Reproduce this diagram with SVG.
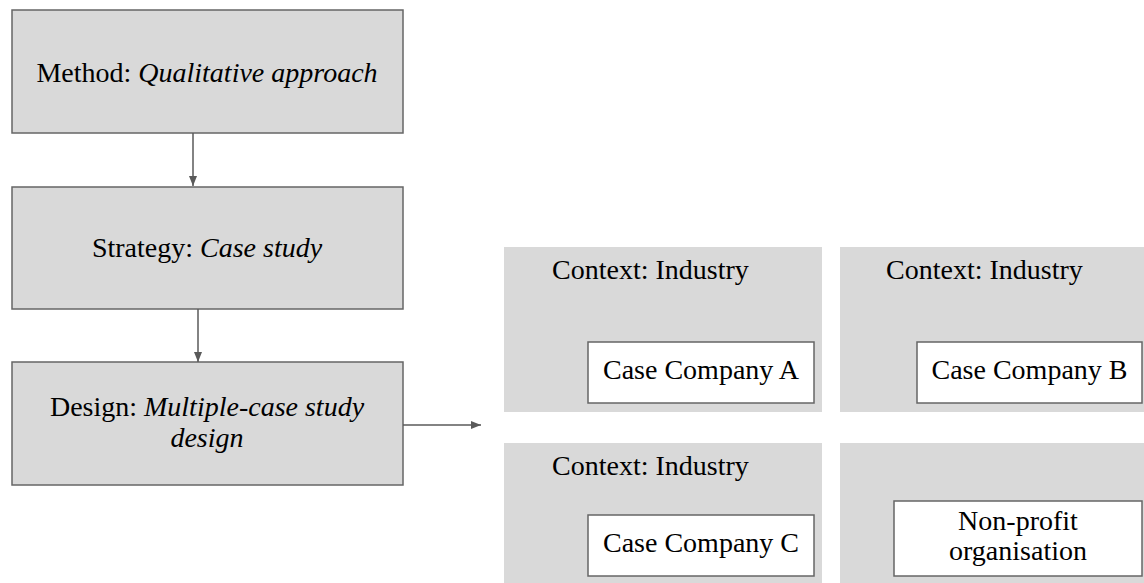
<svg xmlns="http://www.w3.org/2000/svg" width="1144" height="583" viewBox="0 0 1144 583">
<defs>
<style>
.box{fill:#d9d9d9;stroke:#666;stroke-width:1.5}
.panel{fill:#d9d9d9}
.inner{fill:#fff;stroke:#666;stroke-width:1.5}
text{font-family:"Liberation Serif","Times New Roman",serif;font-size:28px;fill:#000}
.c{text-anchor:middle}
.i{font-style:italic}
.conn{stroke:#5a5a5a;stroke-width:1.5;fill:none}
</style>
<marker id="ah" viewBox="0 0 10 10" refX="10" refY="5" markerWidth="10" markerHeight="10" markerUnits="userSpaceOnUse" orient="auto">
<path d="M0,1 L10,5 L0,9 Z" fill="#5a5a5a"/>
</marker>
</defs>
<rect width="1144" height="583" fill="#fff"/>
<g id="method">
<rect class="box" x="12" y="10" width="391" height="123"/>
<text class="c" x="207" y="82">Method: <tspan class="i">Qualitative approach</tspan></text>
</g>
<g id="strategy">
<rect class="box" x="12" y="187" width="391" height="122"/>
<text class="c" x="207" y="257">Strategy: <tspan class="i">Case study</tspan></text>
</g>
<g id="design">
<rect class="box" x="12" y="362" width="391" height="123"/>
<text class="c" x="207" y="416">Design: <tspan class="i">Multiple-case study</tspan></text>
<text class="c i" x="207" y="447">design</text>
</g>
<g id="panel-a">
<rect class="panel" x="504" y="247" width="318" height="165"/>
<text x="552" y="279">Context: Industry</text>
<rect class="inner" x="588" y="342" width="226" height="61"/>
<text class="c" x="701" y="379">Case Company A</text>
</g>
<g id="panel-b">
<rect class="panel" x="840" y="247" width="304" height="165"/>
<text x="886" y="279">Context: Industry</text>
<rect class="inner" x="917" y="342" width="225" height="61"/>
<text class="c" x="1029.5" y="379">Case Company B</text>
</g>
<g id="panel-c">
<rect class="panel" x="504" y="443" width="318" height="140"/>
<text x="552" y="475">Context: Industry</text>
<rect class="inner" x="588" y="515" width="226" height="61"/>
<text class="c" x="701" y="552">Case Company C</text>
</g>
<g id="panel-d">
<rect class="panel" x="840" y="443" width="304" height="140"/>
<rect class="inner" x="894" y="501" width="248" height="75"/>
<text class="c" x="1018" y="530">Non-profit</text>
<text class="c" x="1018" y="560">organisation</text>
</g>
<g id="connectors">
<line class="conn" x1="193" y1="133" x2="193" y2="186" marker-end="url(#ah)"/>
<line class="conn" x1="198" y1="309" x2="198" y2="362" marker-end="url(#ah)"/>
<line class="conn" x1="403" y1="425" x2="481" y2="425" marker-end="url(#ah)"/>
</g>
</svg>
